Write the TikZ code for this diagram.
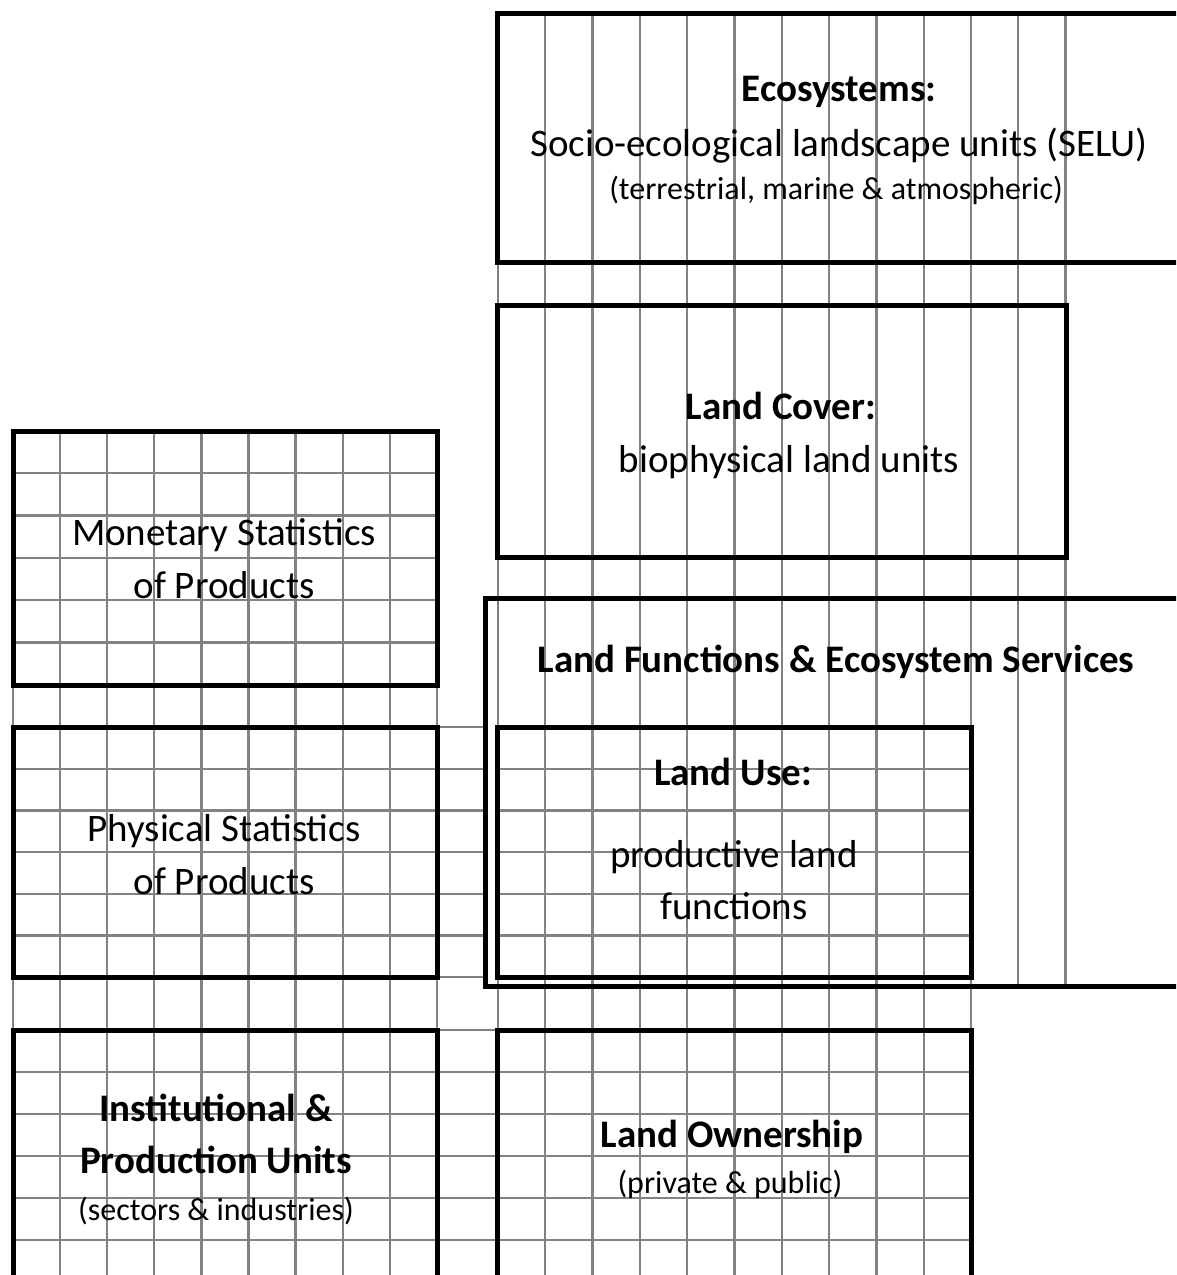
\documentclass[tikz,border=0pt]{standalone}
\usepackage{fontspec}
\setmainfont{Carlito}
\definecolor{gridgray}{RGB}{130,130,130}
\begin{document}
\begin{tikzpicture}[x=1pt,y=-1pt,
  gridline/.style={draw=gridgray, line width=2.3pt},
  box/.style={draw=black, line width=5pt, rectangle, inner sep=0pt, outer sep=0pt},
  big/.style={font=\fontsize{39}{47}\selectfont, anchor=base, inner sep=0pt},
  bigb/.style={font=\fontsize{39}{47}\selectfont\bfseries, anchor=base, inner sep=0pt},
  small/.style={font=\fontsize{32}{38}\selectfont, anchor=base, inner sep=0pt}]
\useasboundingbox (0,0) rectangle (1176,1275);
\begin{scope}
\clip (0,0) rectangle (1176,1275);
% left column vertical grid lines
\foreach \k in {0,...,9} \draw[gridline] ({13+47.1*\k},431) -- ({13+47.1*\k},1290);
% right column vertical grid lines
\foreach \k in {0,...,10} \draw[gridline] ({498+47.3*\k},13) -- ({498+47.3*\k},1290);
\foreach \k in {11,12} \draw[gridline] ({498+47.3*\k},13) -- ({498+47.3*\k},986);
% Monetary row horizontals
\foreach \k in {1,...,5} \draw[gridline] (13,{431+42.3*\k}) -- (437,{431+42.3*\k});
% Physical / Land use row horizontals
\foreach \k in {0,...,6} {
  \draw[gridline] (13,{727+41.67*\k}) -- (485,{727+41.67*\k});
  \draw[gridline] (497,{727+41.67*\k}) -- (971,{727+41.67*\k});
}
% Institutional / Ownership row horizontals
\foreach \k in {0,...,6} \draw[gridline] (13,{1030+42*\k}) -- (971,{1030+42*\k});
% boxes
\node[box, minimum width=703pt, minimum height=249pt] (eco) at (848.5,137.5) {};
\node[box, minimum width=569pt, minimum height=252pt] (cover) at (781.5,431) {};
\node[box, minimum width=715pt, minimum height=388pt] (func) at (842.5,792) {};
\node[box, minimum width=474pt, minimum height=250pt] (use) at (734,852) {};
\node[box, minimum width=474pt, minimum height=270pt] (own) at (734,1165) {};
\node[box, minimum width=424pt, minimum height=254pt] (mon) at (225,558) {};
\node[box, minimum width=424pt, minimum height=250pt] (phys) at (225,852) {};
\node[box, minimum width=424pt, minimum height=270pt] (inst) at (225,1165) {};
\end{scope}
% texts
\node[bigb] (t1) at (839,101) {Ecosystems:};
\node[big] (t2) at (839,156) {Socio-ecological landscape units (SELU)};
\node[small] (t3) at (836,199) {(terrestrial, marine \& atmospheric)};
\node[bigb] (t4) at (781,419) {Land Cover:};
\node[big] (t5) at (789,472) {biophysical land units};
\node[bigb] (t6) at (836,672) {Land Functions \& Ecosystem Services};
\node[bigb] (t7) at (733,785) {Land Use:};
\node[big] (t8) at (734,867) {productive land};
\node[big] (t9) at (734,919) {functions};
\node[big] (t10) at (224,545) {Monetary Statistics};
\node[big] (t11) at (224,598) {of Products};
\node[big] (t12) at (224,841) {Physical Statistics};
\node[big] (t13) at (224,894) {of Products};
\node[bigb] (t14) at (216,1121) {Institutional \&};
\node[bigb] (t15) at (216,1173) {Production Units};
\node[small] (t16) at (216,1220) {(sectors \& industries)};
\node[bigb] (t17) at (732,1147) {Land Ownership};
\node[small] (t18) at (730,1193) {(private \& public)};
\end{tikzpicture}
\end{document}
